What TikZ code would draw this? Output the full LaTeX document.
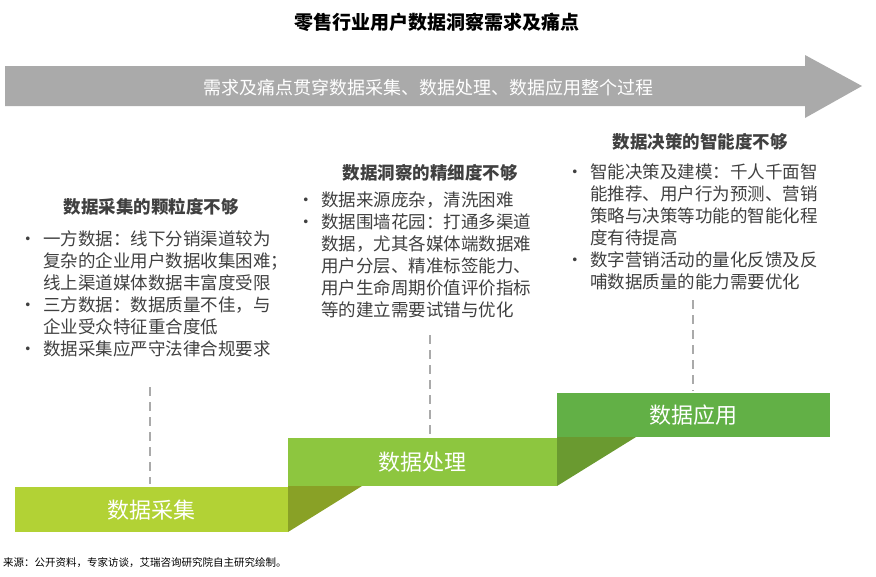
\documentclass[tikz,border=0pt]{standalone}
\usepackage{fontspec}
\setmainfont{Noto Sans CJK SC}
\usetikzlibrary{positioning}
\definecolor{stepA}{HTML}{B2D235}
\definecolor{stepB}{HTML}{8DC63F}
\definecolor{stepC}{HTML}{62B046}
\definecolor{shadeA}{HTML}{89A126}
\definecolor{shadeB}{HTML}{6A9A30}
\definecolor{arrowgray}{HTML}{AAAAAA}
\definecolor{txt}{HTML}{404040}
\newcommand{\bul}{\makebox[24pt][l]{•}}
\newcommand{\ind}{\hspace*{24pt}}
\tikzset{
  head/.style={font=\bfseries\fontsize{17.5}{19}\selectfont, text=txt},
  pts/.style={font=\fontsize{17.5}{22}\selectfont, text=txt, align=left, anchor=north west, inner sep=0pt},
  stage/.style={font=\fontsize{22}{24}\selectfont, text=white},
  drop/.style={draw=arrowgray, line width=2.5pt, dash pattern=on 9pt off 6pt}
}
\begin{document}
\begin{tikzpicture}[x=1pt,y=-1pt]
    \useasboundingbox (0,0) rectangle (876,576);
    \node [font=\bfseries\fontsize{19}{21}\selectfont](title)at(437,22){零售行业用户数据洞察需求及痛点};

    \fill [arrowgray](5,66)--(805,66)--(805,55)--(862,86)--(805,118)--(805,106)--(5,106)--cycle;
    \node [font=\fontsize{18}{20}\selectfont, text=white](span)at(428,88){需求及痛点贯穿数据采集、数据处理、数据应用整个过程};

    \fill [stepA](15,487) rectangle (288,532);
    \fill [stepB](288,438) rectangle (557,486);
    \fill [stepC](557,393) rectangle (830,437);
    \fill [shadeA](288,486)--(362,486)--(288,532)--cycle;
    \fill [shadeB](557,437)--(636,437)--(557,486)--cycle;
    \node [stage](s1)at(151,510){数据采集};
    \node [stage](s2)at(422,462){数据处理};
    \node [stage](s3)at(693,415){数据应用};

    \coordinate (d1)at(150,387);
    \coordinate (d2)at(430,335);
    \coordinate (d3)at(693,300);
    \draw [drop](d1)--(150,484);
    \draw [drop](d2)--(430,436);
    \draw [drop](d3)--(693,391);

    \node [head](h1)at(151,207){数据采集的颗粒度不够};
    \node [pts](p1)at(19,230){\bul 一方数据：线下分销渠道较为\\
    \ind 复杂的企业用户数据收集困难；\\
    \ind 线上渠道媒体数据丰富度受限\\
    \bul 三方数据：数据质量不佳，与\\
    \ind 企业受众特征重合度低\\
    \bul 数据采集应严守法律合规要求};

    \node [head](h2)at(430,173){数据洞察的精细度不够};
    \node [pts](p2)at(297,192){\bul 数据来源庞杂，清洗困难\\
    \bul 数据围墙花园：打通多渠道\\
    \ind 数据，尤其各媒体端数据难\\
    \ind 用户分层、精准标签能力、\\
    \ind 用户生命周期价值评价指标\\
    \ind 等的建立需要试错与优化};

    \node [head](h3)at(700,142){数据决策的智能度不够};
    \node [pts](p3)at(566,164){\bul 智能决策及建模：千人千面智\\
    \ind 能推荐、用户行为预测、营销\\
    \ind 策略与决策等功能的智能化程\\
    \ind 度有待提高\\
    \bul 数字营销活动的量化反馈及反\\
    \ind 哺数据质量的能力需要优化};

    \node [font=\fontsize{10.5}{12}\selectfont, anchor=west, inner sep=0pt](src)at(3,563){来源：公开资料，专家访谈，艾瑞咨询研究院自主研究绘制。};
\end{tikzpicture}
\end{document}
